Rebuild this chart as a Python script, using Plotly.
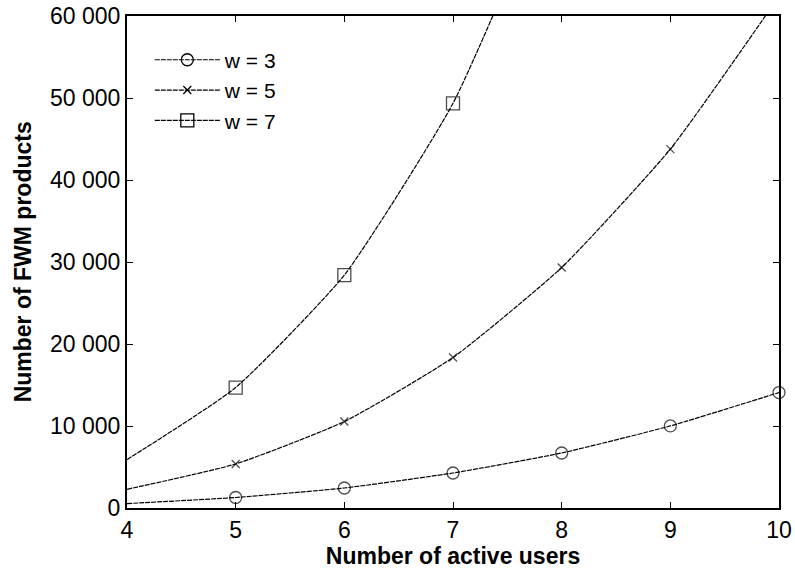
import plotly.graph_objects as go

users = [4, 5, 6, 7, 8, 9, 10]
w3 = [540, 1280, 2440, 4270, 6710, 10010, 14080]
w5 = [2280, 5370, 10540, 18350, 29330, 43770, 62400]
w7 = [5900, 14690, 28400, 49350, 79800]
names = ["w = 3", "w = 5", "w = 7"]
symbols = ["circle-open", "x-thin-open", "square-open"]
msizes = [12, 8, 13]

y_ticks = [0, 10000, 20000, 30000, 40000, 50000, 60000]
y_ticktext = ["0", "10 000", "20 000", "30 000", "40 000", "50 000", "60 000"]
x_ticks = [4, 5, 6, 7, 8, 9, 10]

YMAX = 60000
FONT = "Liberation Sans, Arial, Helvetica, sans-serif"
DASH = "5px,1px"

fig = go.Figure()
series = [w3, w5, w7]
for vals, name, sym, ms in zip(series, names, symbols, msizes):
    xs = users[:len(vals)]
    sizes = [0 if (x == users[0] or v > YMAX) else ms for x, v in zip(xs, vals)]
    fig.add_trace(go.Scatter(
        x=xs, y=vals, mode="lines+markers", showlegend=False,
        line=dict(color="black", width=1.2, dash=DASH, shape="spline", smoothing=0.5),
        marker=dict(symbol=sym, size=sizes, color="black", line=dict(color="black", width=1.3)),
        cliponaxis=False,
    ))
    fig.add_trace(go.Scatter(
        x=[None], y=[None], mode="lines+markers", name=name,
        line=dict(color="black", width=1.2, dash=DASH),
        marker=dict(symbol=sym, size=ms, color="black", line=dict(color="black", width=1.3)),
    ))

fig.update_layout(
    width=795, height=570,
    margin=dict(l=127, r=16, t=16, b=62),
    paper_bgcolor="white", plot_bgcolor="white",
    font=dict(family=FONT, size=23, color="black"),
    legend=dict(x=0.035, y=0.952, xanchor="left", yanchor="top",
                bgcolor="rgba(0,0,0,0)", itemwidth=65,
                font=dict(family=FONT, size=21, color="black"),
                tracegroupgap=0),
    annotations=[dict(
        text="<b>Number of FWM products</b>", textangle=-90,
        xref="paper", yref="paper", x=-0.159, y=0.5,
        xanchor="center", yanchor="middle", showarrow=False,
        font=dict(family=FONT, size=23, color="black"),
    )],
)
fig.update_xaxes(
    range=[4, 10], tickvals=x_ticks, ticks="inside", ticklen=6, tickwidth=1.3,
    tickcolor="black", showline=True, linecolor="black", linewidth=2, mirror="ticks",
    showgrid=False, zeroline=False, automargin=False,
    title=dict(text="<b>Number of active users</b>", font=dict(family=FONT, size=23), standoff=4),
    tickfont=dict(family=FONT, size=23),
)
fig.update_yaxes(
    range=[0, YMAX], tickvals=y_ticks, ticktext=y_ticktext, ticks="inside", ticklen=6,
    tickwidth=1.3, tickcolor="black", showline=True, linecolor="black", linewidth=2,
    mirror="ticks", showgrid=False, zeroline=False, automargin=False,
    tickfont=dict(family=FONT, size=23),
)

fig.write_html("out.html")
